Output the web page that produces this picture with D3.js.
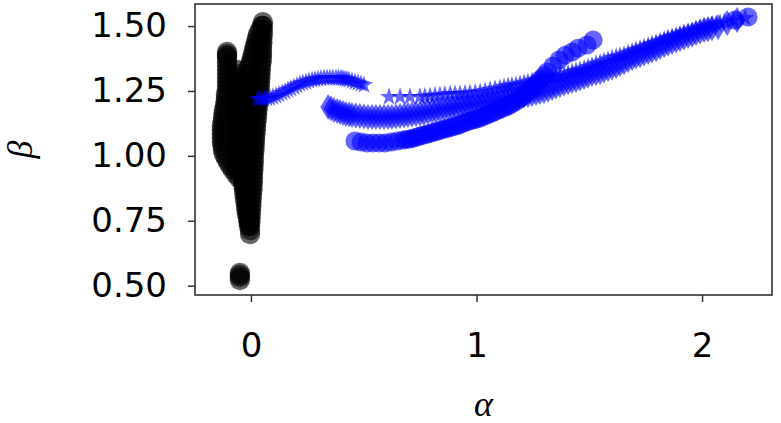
<!DOCTYPE html>
<html>
<head>
<meta charset="utf-8">
<script src="https://cdn.jsdelivr.net/npm/d3@7"></script>
<style>
  body { margin: 0; background: #fff; }
  svg { display: block; }
  .tick text { font-family: "DejaVu Sans", sans-serif; font-size: 34px; fill: #000; }
</style>
</head>
<body>
<div id="chart"></div>
<script>
// values, [alpha, beta]
var blackRight = [
    [0.053,1.515],[0.053,1.500],[0.053,1.485],[0.053,1.469],[0.051,1.454],[0.051,1.438],[0.049,1.423],[0.049,1.408],
    [0.049,1.392],[0.049,1.377],[0.047,1.361],[0.044,1.346],[0.044,1.331],[0.042,1.315],[0.042,1.300],[0.040,1.284],
    [0.040,1.269],[0.038,1.254],[0.035,1.238],[0.033,1.223],[0.033,1.207],[0.031,1.192],[0.029,1.177],[0.027,1.161],
    [0.027,1.146],[0.024,1.130],[0.022,1.115],[0.022,1.100],[0.020,1.084],[0.018,1.069],[0.018,1.053],[0.016,1.038],
    [0.016,1.023],[0.013,1.007],[0.013,0.992],[0.013,0.976],[0.011,0.961],[0.011,0.946],[0.009,0.930],[0.009,0.915],
    [0.009,0.899],[0.007,0.884],[0.007,0.869],[0.004,0.853],[0.004,0.838],[0.002,0.822],[0.002,0.807],[0.000,0.792],
    [0.000,0.776],[-0.002,0.761],[-0.002,0.745],[-0.004,0.730],[-0.004,0.714],[-0.004,0.699]
]
var blackInner = [
    [0.049,1.500],[0.040,1.485],[0.031,1.469],[0.027,1.454],[0.022,1.438],[0.018,1.423],[0.013,1.408],[0.009,1.392],
    [0.004,1.377],[0.000,1.361],[-0.007,1.346],[-0.013,1.331],[-0.013,1.315],[-0.013,1.300],[-0.013,1.284],[-0.013,1.269],
    [-0.013,1.254],[-0.013,1.238],[-0.013,1.223],[-0.013,1.207],[-0.013,1.192],[-0.013,1.177],[-0.013,1.161],[-0.013,1.146],
    [-0.013,1.130],[-0.013,1.115],[-0.013,1.100],[-0.013,1.084],[-0.013,1.069],[-0.013,1.053],[-0.013,1.038],[-0.018,1.023],
    [-0.018,1.007],[-0.018,0.992],[-0.022,0.976],[-0.022,0.961],[-0.022,0.946],[-0.022,0.930],[-0.022,0.915],[-0.022,0.899],
    [-0.022,0.884],[-0.022,0.869],[-0.022,0.853],[-0.018,0.838],[-0.018,0.822],[-0.013,0.807],[-0.013,0.792],[-0.009,0.776],
    [-0.009,0.761],[-0.009,0.745]
]
var blackMiddle = [
    [-0.062,1.331],[-0.062,1.315],[-0.062,1.300],[-0.062,1.284],[-0.062,1.269],[-0.062,1.254],[-0.062,1.238],[-0.062,1.223],
    [-0.062,1.207],[-0.062,1.192],[-0.062,1.177],[-0.062,1.161],[-0.062,1.146],[-0.062,1.130],[-0.062,1.115],[-0.062,1.100],
    [-0.062,1.084],[-0.062,1.069],[-0.062,1.053],[-0.062,1.038],[-0.062,1.023],[-0.062,1.007],[-0.062,0.992],[-0.062,0.976],
    [-0.062,0.961],[-0.062,0.946],
    [-0.035,1.269],[-0.035,1.238],[-0.035,1.207],[-0.035,1.177],[-0.035,1.146],[-0.035,1.115],[-0.035,1.084],[-0.035,1.053],
    [-0.035,1.023],[-0.035,0.992],[-0.035,0.961],[-0.035,0.930],[-0.035,0.899]
]
var blackLeft = [
    [-0.106,1.400],[-0.106,1.392],[-0.106,1.385],[-0.106,1.377],[-0.106,1.361],[-0.106,1.346],[-0.106,1.331],[-0.106,1.315],
    [-0.106,1.300],[-0.106,1.284],[-0.106,1.269],[-0.106,1.254],[-0.111,1.238],[-0.111,1.223],[-0.113,1.207],[-0.115,1.192],
    [-0.120,1.177],[-0.122,1.161],[-0.124,1.146],[-0.126,1.130],[-0.129,1.115],[-0.129,1.100],[-0.129,1.084],[-0.129,1.069],
    [-0.129,1.053],[-0.126,1.038],[-0.124,1.023],[-0.120,1.007],[-0.111,0.992],[-0.102,0.976],[-0.091,0.961],[-0.080,0.946],
    [-0.067,0.930],[-0.053,0.915],[-0.035,0.899],[-0.033,0.884],[-0.031,0.869],[-0.029,0.853],[-0.027,0.838],[-0.024,0.822],
    [-0.022,0.807],[-0.020,0.792],[-0.018,0.776],[-0.013,0.761],[-0.011,0.745],[-0.009,0.730]
]
var blackBlob = [[-0.049,0.549],[-0.049,0.541],[-0.049,0.533],[-0.049,0.522]]

var starsA = [
    [0.031,1.219],[0.044,1.219],[0.058,1.219],[0.071,1.221],[0.084,1.223],[0.097,1.227],[0.111,1.231],[0.124,1.236],
    [0.138,1.242],[0.151,1.248],[0.164,1.254],[0.177,1.259],[0.191,1.265],[0.204,1.271],[0.217,1.277],[0.230,1.281],
    [0.244,1.284],[0.257,1.288],[0.271,1.292],[0.284,1.294],[0.297,1.296],[0.310,1.298],[0.324,1.300],[0.337,1.300],
    [0.350,1.300],[0.363,1.300],[0.377,1.300],[0.388,1.300],[0.399,1.300],[0.408,1.298],[0.417,1.296],[0.426,1.294],
    [0.435,1.292],[0.448,1.288],[0.461,1.284],[0.475,1.281],[0.488,1.277],[0.501,1.273]
]

var starsB = [
    [0.612,1.227],[0.661,1.227],[0.705,1.227],[0.749,1.227],[0.771,1.228],[0.794,1.230],[0.816,1.232],[0.838,1.234],
    [0.860,1.236],[0.883,1.238],[0.905,1.238],[0.927,1.238],[0.949,1.240],[0.971,1.242],[0.994,1.244],[1.016,1.246],
    [1.038,1.250],[1.060,1.254],[1.082,1.258],[1.104,1.261],[1.122,1.265],[1.140,1.269],[1.157,1.271],[1.175,1.273],
    [1.193,1.277],[1.211,1.281],[1.228,1.284],[1.246,1.288],[1.264,1.290],[1.282,1.292],[1.299,1.296],[1.317,1.300],
    [1.335,1.302],[1.353,1.304],[1.370,1.307],[1.388,1.311],[1.406,1.317],[1.424,1.323],[1.441,1.327],[1.459,1.331],
    [1.477,1.336],[1.495,1.342],[1.512,1.348],[1.530,1.354],[1.548,1.359],[1.565,1.365],[1.583,1.371],[1.601,1.377],
    [1.619,1.381],[1.636,1.385],[1.654,1.390],[1.672,1.396],[1.690,1.402],[1.707,1.408],[1.725,1.413],[1.743,1.419],
    [1.761,1.425],[1.778,1.431],[1.796,1.436],[1.814,1.442],[1.832,1.448],[1.849,1.454],[1.867,1.458],[1.885,1.462],
    [1.902,1.467],[1.920,1.473],[1.938,1.477],[1.956,1.481],[1.973,1.486],[1.991,1.492],[2.009,1.496],[2.027,1.500],
    [2.044,1.504],[2.062,1.508],[2.080,1.511],[2.098,1.515],[2.138,1.523],[2.191,1.531]
]

var diamonds = [
    [0.342,1.188],[0.355,1.182],[0.368,1.177],[0.382,1.173],[0.395,1.169],[0.408,1.165],[0.421,1.161],[0.435,1.159],
    [0.448,1.157],[0.465,1.155],[0.483,1.154],[0.501,1.152],[0.519,1.150],[0.537,1.150],[0.554,1.150],[0.572,1.150],
    [0.590,1.150],[0.608,1.150],[0.625,1.150],[0.643,1.152],[0.661,1.154],[0.679,1.155],[0.696,1.157],[0.714,1.159],
    [0.732,1.161],[0.750,1.163],[0.767,1.165],[0.785,1.169],[0.803,1.173],[0.820,1.175],[0.838,1.177],[0.856,1.181],
    [0.874,1.184],[0.891,1.186],[0.909,1.188],[0.927,1.192],[0.945,1.196],[0.962,1.198],[0.980,1.200],[0.998,1.202],
    [1.016,1.204],[1.033,1.207],[1.051,1.211],[1.069,1.213],[1.087,1.215],[1.104,1.219],[1.122,1.223],[1.140,1.225],
    [1.157,1.227],[1.175,1.229],[1.193,1.231],[1.210,1.233],[1.228,1.234],[1.246,1.238],[1.264,1.242],[1.281,1.246],
    [1.299,1.250],[1.317,1.255],[1.335,1.261],[1.352,1.267],[1.370,1.273],[1.388,1.279],[1.406,1.284],[1.423,1.288],
    [1.441,1.292],[1.459,1.298],[1.477,1.304],[1.494,1.309],[1.512,1.315],[1.530,1.319],[1.548,1.323],[1.565,1.329],
    [1.583,1.335],[1.601,1.340],[1.619,1.346],[1.636,1.354],[1.654,1.361],[1.672,1.369],[1.690,1.377],[1.707,1.383],
    [1.725,1.388],[1.743,1.394],[1.761,1.400],[1.778,1.406],[1.796,1.412],[1.814,1.419],[1.832,1.427],[1.849,1.433],
    [1.867,1.439],[1.885,1.444],[1.902,1.450],[1.920,1.456],[1.938,1.462],[1.956,1.467],[1.973,1.473],[1.991,1.479],
    [2.009,1.485],[2.026,1.488],[2.044,1.492],[2.071,1.496],[2.111,1.512],[2.155,1.523]
]

var circles = [
    [0.461,1.057],[0.488,1.053],[0.514,1.050],[0.541,1.050],[0.568,1.050],[0.594,1.050],[0.621,1.053],[0.648,1.057],
    [0.674,1.061],[0.690,1.063],[0.705,1.065],[0.721,1.069],[0.736,1.073],[0.752,1.077],[0.767,1.080],[0.783,1.084],
    [0.798,1.088],[0.814,1.092],[0.829,1.096],[0.845,1.100],[0.860,1.103],[0.876,1.107],[0.891,1.111],[0.907,1.115],
    [0.922,1.119],[0.938,1.125],[0.953,1.130],[0.969,1.134],[0.985,1.138],[1.000,1.142],[1.016,1.146],[1.031,1.152],
    [1.047,1.157],[1.062,1.163],[1.078,1.169],[1.093,1.175],[1.109,1.181],[1.124,1.186],[1.140,1.192],[1.155,1.200],
    [1.171,1.207],[1.186,1.217],[1.202,1.227],[1.217,1.238],[1.233,1.250],[1.246,1.261],[1.259,1.273],[1.273,1.284],
    [1.286,1.296],[1.300,1.309],[1.313,1.323],[1.339,1.346],[1.366,1.369],[1.393,1.388],[1.424,1.400],[1.450,1.415],
    [1.490,1.427],[1.517,1.446],[2.146,1.523],[2.204,1.535]
]

var xTicks = [0, 1, 2]
var yTicks = [0.50, 0.75, 1.00, 1.25, 1.50]
var xLabel = "α"
var yLabel = "β"

// layout
var W = 781, H = 423
var margin = {top: 4, right: 9, bottom: 128, left: 195},
    width = W - margin.left - margin.right,
    height = H - margin.top - margin.bottom

var svg = d3.select("#chart")
    .append("svg")
        .attr("width", W)
        .attr("height", H)

var g = svg.append("g")
    .attr("transform", "translate(" + margin.left + "," + margin.top + ")")

var x = d3.scaleLinear().domain([-0.248, 2.310]).range([0, width])
var y = d3.scaleLinear().domain([0.464, 1.585]).range([height, 0])

g.append("clipPath").attr("id", "plotclip")
    .append("rect").attr("width", width).attr("height", height)

var plot = g.append("g").attr("clip-path", "url(#plotclip)")

function starPath(R) {
    var r = R * 0.381966, pts = []
    for (var i = 0; i < 10; i++) {
        var a = -Math.PI / 2 + i * Math.PI / 5
        var rad = i % 2 == 0 ? R : r
        pts.push([rad * Math.cos(a), rad * Math.sin(a)])
    }
    return "M" + pts.join("L") + "Z"
}
var diamondPath = "M0,-13L7.8,0L0,13L-7.8,0Z"

var blackPts = blackRight.concat(blackInner, blackMiddle, blackLeft, blackBlob)

// black circles
plot.append("g").selectAll("circle")
    .data(blackPts)
    .enter()
    .append("circle")
    .attr("cx", function (d) { return x(d[0]) })
    .attr("cy", function (d) { return y(d[1]) })
    .attr("r", 10.2)
    .style("fill", "#000")
    .style("fill-opacity", 0.6)

// blue stars
plot.append("g").selectAll("path")
    .data(starsA.concat(starsB))
    .enter()
    .append("path")
    .attr("d", starPath(9.6))
    .attr("transform", function (d) { return "translate(" + x(d[0]) + "," + y(d[1]) + ")" })
    .style("fill", "#0000ff")
    .style("fill-opacity", 0.6)

// blue thin diamonds
plot.append("g").selectAll("path")
    .data(diamonds)
    .enter()
    .append("path")
    .attr("d", diamondPath)
    .attr("transform", function (d) { return "translate(" + x(d[0]) + "," + y(d[1]) + ")" })
    .style("fill", "#0000ff")
    .style("fill-opacity", 0.6)

// blue circles
plot.append("g").selectAll("circle")
    .data(circles)
    .enter()
    .append("circle")
    .attr("cx", function (d) { return x(d[0]) })
    .attr("cy", function (d) { return y(d[1]) })
    .attr("r", 9.5)
    .style("fill", "#0000ff")
    .style("fill-opacity", 0.6)

// axes
g.append("g")
    .attr("transform", "translate(0," + height + ")")
    .call(d3.axisBottom(x).tickValues(xTicks).tickFormat(d3.format("d")).tickSize(7).tickPadding(31).tickSizeOuter(0))
g.append("g")
    .call(d3.axisLeft(y).tickValues(yTicks).tickFormat(d3.format(".2f")).tickSize(7).tickPadding(21).tickSizeOuter(0))

g.selectAll(".domain").remove()
g.selectAll(".tick line").attr("stroke", "#333").attr("stroke-width", 1.5)

// frame
g.append("rect")
    .attr("width", width)
    .attr("height", height)
    .attr("fill", "none")
    .attr("stroke", "#333")
    .attr("stroke-width", 1.6)

// axis labels
svg.append("text")
    .attr("x", margin.left + width / 2)
    .attr("y", 416)
    .attr("text-anchor", "middle")
    .style("font-family", "'Liberation Serif', serif")
    .style("font-style", "italic")
    .style("font-size", "36px")
    .text(xLabel)

svg.append("text")
    .attr("transform", "translate(32," + (margin.top + height / 2) + ") rotate(-90)")
    .attr("text-anchor", "middle")
    .style("font-family", "'Liberation Serif', serif")
    .style("font-style", "italic")
    .style("font-size", "36px")
    .text(yLabel)
</script>
</body>
</html>
